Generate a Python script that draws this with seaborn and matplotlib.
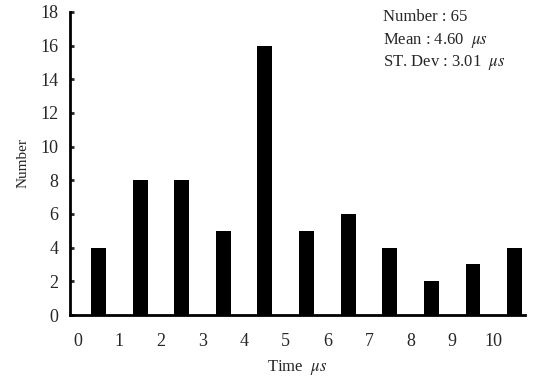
import matplotlib
matplotlib.use("Agg")
import matplotlib.pyplot as plt
import seaborn as sns
import pandas as pd

# Data
bin_centers = [0.5, 1.5, 2.5, 3.5, 4.5, 5.5, 6.5, 7.5, 8.5, 9.5, 10.5]
counts = [4, 8, 8, 5, 16, 5, 6, 4, 2, 3, 4]
x_ticks = [0, 1, 2, 3, 4, 5, 6, 7, 8, 9, 10]
y_ticks = [0, 2, 4, 6, 8, 10, 12, 14, 16, 18]
stats_lines = ["Number : 65", "Mean : 4.60  $\\mu s$", "ST. Dev : 3.01  $\\mu s$"]

sns.set_theme(style="white")
plt.rcParams["font.family"] = ["Liberation Serif", "DejaVu Serif"]
plt.rcParams["mathtext.fontset"] = "stix"

df = pd.DataFrame({"time": bin_centers, "count": counts})

fig = plt.figure(figsize=(5.33, 3.83), dpi=100)
ax = fig.add_axes([0.131, 0.1775, 0.854, 0.7915])

sns.barplot(data=df, x="time", y="count", native_scale=True, width=0.36,
            color="black", saturation=1, ax=ax, edgecolor="black", linewidth=0)

ax.set_xlim(-0.19, 10.75)
ax.set_ylim(0, 18)
ax.set_xticks(x_ticks)
ax.set_xticklabels([str(t) for t in x_ticks], fontsize=13)
ax.set_yticks(y_ticks)
ax.set_yticklabels([str(t) for t in y_ticks], fontsize=13)
ax.tick_params(axis="x", length=0, pad=13)
ax.tick_params(axis="y", direction="in", length=3, width=2, pad=8, left=True)

for s in ["top", "right"]:
    ax.spines[s].set_visible(False)
for s in ["left", "bottom"]:
    ax.spines[s].set_linewidth(2)
    ax.spines[s].set_color("black")

ax.set_xlabel("Time  $\\mu s$", fontsize=12, labelpad=6)
ax.set_ylabel("Number", fontsize=11, labelpad=8)

for i, line in enumerate(stats_lines):
    fig.text(383 / 533, 1 - (17 + 23 * i) / 383, line, fontsize=12,
             ha="left", va="center")

fig.savefig("out.png", dpi=100)
